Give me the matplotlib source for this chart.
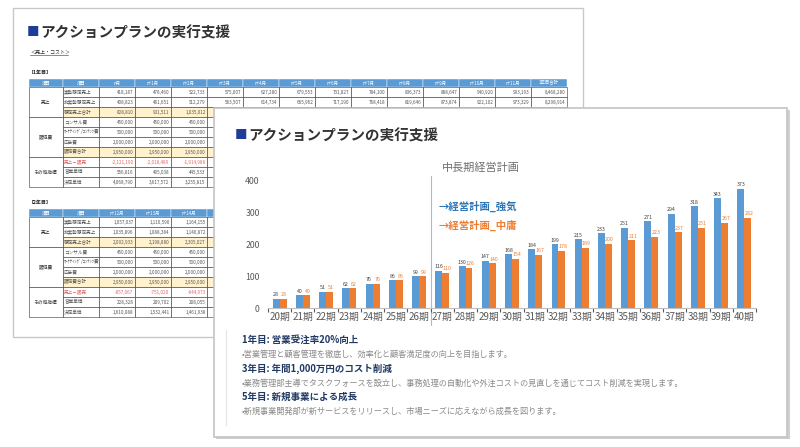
import matplotlib
matplotlib.use('Agg')
import matplotlib.pyplot as plt
from matplotlib.patches import Rectangle

plt.rcParams['font.family'] = ['Noto Sans CJK JP', 'DejaVu Sans']

# ---------------- data: front chart ----------------
periods = ['20期', '21期', '22期', '23期', '24期', '25期', '26期', '27期', '28期', '29期',
           '30期', '31期', '32期', '33期', '34期', '35期', '36期', '37期', '38期', '39期', '40期']
plan_strong = [28, 40, 51, 62, 76, 86, 99, 116, 130, 147, 168, 184, 199, 215, 233, 251,
               271, 294, 318, 343, 373]
plan_moderate = [28, 40, 51, 62, 76, 86, 99, 110, 126, 140, 154, 167, 178, 189, 200, 211,
                 223, 237, 251, 267, 282]
series_names = ['経営計画_強気', '経営計画_中庸']
y_ticks = [0, 100, 200, 300, 400]
chart_title = '中長期経営計画'
slide_title = 'アクションプランの実行支援'

goal_titles = ['1年目: 営業受注率20%向上', '3年目: 年間1,000万円のコスト削減', '5年目: 新規事業による成長']
goal_details = ['•営業管理と顧客管理を徹底し、効率化と顧客満足度の向上を目指します。',
                '•業務管理部主導でタスクフォースを設立し、事務処理の自動化や外注コストの見直しを通じてコスト削減を実現します。',
                '•新規事業開発部が新サービスをリリースし、市場ニーズに応えながら成長を図ります。']

# ---------------- data: back slide tables ----------------
row_groups = ['売上', '販促費', 'その他指標']
row_group_sizes = [3, 4, 3]
row_items = ['実勢想定売上', '非実勢想定売上', '想定売上合計', 'コンサル費', 'ﾏｰｹﾃｨﾝｸﾞ/ｺﾝﾃﾝﾂ費',
             '広告費', '販促費合計', '売上－販売', '営業単価', '決定単価']
t1_columns = ['n月', 'n+1月', 'n+2月', 'n+3月', 'n+4月', 'n+5月', 'n+6月', 'n+7月', 'n+8月',
              'n+9月', 'n+10月', 'n+11月', '1年目合計']
t1_values = [
    [418187, 478460, 522733, 575007, 627280, 679553, 731827, 784100, 836373, 888647, 940920, 993193, 8468280],
    [408823, 461651, 512279, 563507, 614734, 665962, 717190, 768418, 819646, 873874, 922102, 973329, 8298914],
    [828810, 931511, 1035012],
    [450000, 450000, 450000],
    [500000, 500000, 500000],
    [2000000, 2000000, 2000000],
    [2950000, 2950000, 2950000],
    [-2121190, -2018489, -1914988],
    [556816, 495038, 445533],
    [4068790, 3617572, 3255815],
]
t2_columns = ['n+12月', 'n+13月', 'n+14月', 'n+15月', 'n+16月', 'n+17月', 'n+18月', 'n+19月',
              'n+20月', 'n+21月', 'n+22月', 'n+23月', '2年目合計']
t2_values = [
    [1057037, 1110590, 1164155],
    [1035896, 1088384, 1140872],
    [2092933, 2198880, 2305027],
    [450000, 450000, 450000],
    [500000, 500000, 500000],
    [2000000, 2000000, 2000000],
    [2950000, 2950000, 2950000],
    [-857067, -751020, -644973],
    [228328, 209702, 208055],
    [1610088, 1532441, 1461938],
]

# ---------------- figure ----------------
W, H = 800, 447
fig = plt.figure(figsize=(W / 100, H / 100), dpi=100)
bg = fig.add_axes([0, 0, 1, 1])
bg.set_xlim(0, W)
bg.set_ylim(H, 0)
bg.axis('off')

FRONT_X, FRONT_Y = 214, 108

# back slide
bg.add_patch(Rectangle((13, 8), 570, 329, facecolor='white', edgecolor='#c8c8c8', lw=1.0, zorder=1))
bg.text(27, 32.5, '■', color='#1f3c99', fontsize=9, fontweight='bold', va='center', ha='left', zorder=3)
bg.text(40, 32.5, slide_title, color='#333333', fontsize=10.5, fontweight='bold', va='center', ha='left', zorder=3)
bg.text(30, 52, '＜売上・コスト＞', color='#333333', fontsize=3.6, va='center', ha='left', zorder=3)
bg.plot([30, 68], [54.5, 54.5], color='#333333', lw=0.4, zorder=3)

col_edges = [29, 62.7, 99]
for k in range(13):
    col_edges.append(99 + 36 * (k + 1))


def visible(x0, y0):
    return not (x0 >= FRONT_X and y0 >= FRONT_Y)


def draw_table(top, label, columns, values):
    bg.text(29, top - 6.5, label, fontsize=3.6, fontweight='bold', color='#222222', va='center', zorder=3)
    hh, rh = 8, 10
    headers = ['項目', '項目'] + columns
    for c, txt in enumerate(headers):
        x0, x1 = col_edges[c], col_edges[c + 1]
        bg.add_patch(Rectangle((x0, top), x1 - x0, hh, facecolor='#5b9bd5', edgecolor='white', lw=0.3, zorder=2))
        if visible(x0, top):
            bg.text((x0 + x1) / 2, top + hh / 2, txt, color='white', fontsize=3.2,
                    ha='center', va='center', zorder=3)
    y = top + hh
    r = 0
    for g, size in zip(row_groups, row_group_sizes):
        bg.add_patch(Rectangle((col_edges[0], y), col_edges[1] - col_edges[0], rh * size,
                               facecolor='white', edgecolor='#333333', lw=0.4, zorder=2))
        bg.text((col_edges[0] + col_edges[1]) / 2, y + rh * size / 2, g, fontsize=3.4, color='#333333',
                ha='center', va='center', zorder=3)
        for s in range(size):
            yy = y + rh * s
            total_row = row_items[r].endswith('合計')
            red_row = row_items[r] == '売上－販売'
            fc = '#fff2cc' if total_row else 'white'
            tc = '#e06666' if red_row else '#555555'
            vals = values[r]
            for c in range(1, len(headers)):
                x0, x1 = col_edges[c], col_edges[c + 1]
                bg.add_patch(Rectangle((x0, yy), x1 - x0, rh, facecolor=fc, edgecolor='#333333', lw=0.4, zorder=2))
            bg.text(col_edges[1] + 1.5, yy + rh / 2, row_items[r], fontsize=3.3, color=tc,
                    ha='left', va='center', zorder=3)
            for k, v in enumerate(vals):
                if visible(col_edges[k + 2], yy):
                    bg.text(col_edges[k + 3] - 1.5, yy + rh / 2, f'{v:,}', fontsize=3.3, color=tc,
                            ha='right', va='center', zorder=3)
            r += 1
        y += rh * size


draw_table(79, '【1年目】', t1_columns, t1_values)
draw_table(209, '【2年目】', t2_columns, t2_values)

# front slide
bg.add_patch(Rectangle((FRONT_X + 2, FRONT_Y + 2), 574, 329, facecolor='#d0d0d0', edgecolor='none', zorder=9))
bg.add_patch(Rectangle((FRONT_X, FRONT_Y), 573, 329, facecolor='white', edgecolor='#c4c4c4', lw=1.2, zorder=10))
bg.text(235, 135.5, '■', color='#1f3c99', fontsize=9, fontweight='bold', va='center', ha='left', zorder=11)
bg.text(248, 135.5, slide_title, color='#333333', fontsize=10.5, fontweight='bold', va='center', ha='left', zorder=11)
bg.text(481, 168, chart_title, color='#6f6f6f', fontsize=8, va='center', ha='center', zorder=11)

bg.plot([226, 226], [330, 425], color='#e4e4e4', lw=0.8, zorder=11)
text_y = [340, 354.5, 368.5, 383, 397, 411.5]
for i in range(3):
    bg.text(242, text_y[2 * i], goal_titles[i], color='#1f3864', fontsize=6.8, fontweight='bold',
            va='center', ha='left', zorder=11)
    bg.text(242, text_y[2 * i + 1], goal_details[i], color='#8a8a8a', fontsize=5.9,
            va='center', ha='left', zorder=11)

# bar chart
left, right, top, bottom = 268, 756, 180, 308
ax = fig.add_axes([left / W, (H - bottom) / H, (right - left) / W, (bottom - top) / H])
ax.set_facecolor('none')
x = list(range(len(periods)))
bw = 0.3
xs = [i - bw / 2 for i in x]
xo = [i + bw / 2 for i in x]
ax.bar(xs, plan_strong, width=bw, color='#5b9bd5', zorder=2)
ax.bar(xo, plan_moderate, width=bw, color='#ed7d31', zorder=2)
for i in x:
    ax.text(xs[i], plan_strong[i] + 5, str(plan_strong[i]), fontsize=3.8, color='#404040',
            ha='center', va='bottom', clip_on=False)
    ax.text(xo[i] + 0.05, plan_moderate[i] + 5, str(plan_moderate[i]), fontsize=3.8, color='#ed7d31',
            ha='center', va='bottom', clip_on=False)
ax.set_xlim(-0.5, len(periods) - 0.5)
ax.set_ylim(0, 400)
ax.set_yticks(y_ticks)
ax.set_yticklabels([str(t) for t in y_ticks], fontsize=6.3, color='#595959')
ax.set_xticks(x)
ax.set_xticklabels(periods, fontsize=7.1, color='#595959')
ax.set_xticks([i - 0.5 for i in range(len(periods) + 1)], minor=True)
ax.tick_params(axis='both', which='major', length=0, pad=3)
ax.tick_params(axis='y', pad=6)
ax.tick_params(axis='x', which='minor', length=3, width=0.8, color='#595959', direction='out')
for s in ['top', 'right', 'left']:
    ax.spines[s].set_visible(False)
ax.spines['bottom'].set_color('#bfbfbf')
ax.spines['bottom'].set_linewidth(0.8)
ax.axvline(6.5, ymin=-0.13, ymax=1.03, color='#a9bccf', lw=0.8, clip_on=False, zorder=1)
ax.text(6.85, 319, '→' + series_names[0], color='#2e75b6', fontsize=7.5, fontweight='bold',
        va='center', ha='left')
ax.text(6.85, 259, '→' + series_names[1], color='#ed7d31', fontsize=7.5, fontweight='bold',
        va='center', ha='left')

fig.savefig('out.png', dpi=100)
